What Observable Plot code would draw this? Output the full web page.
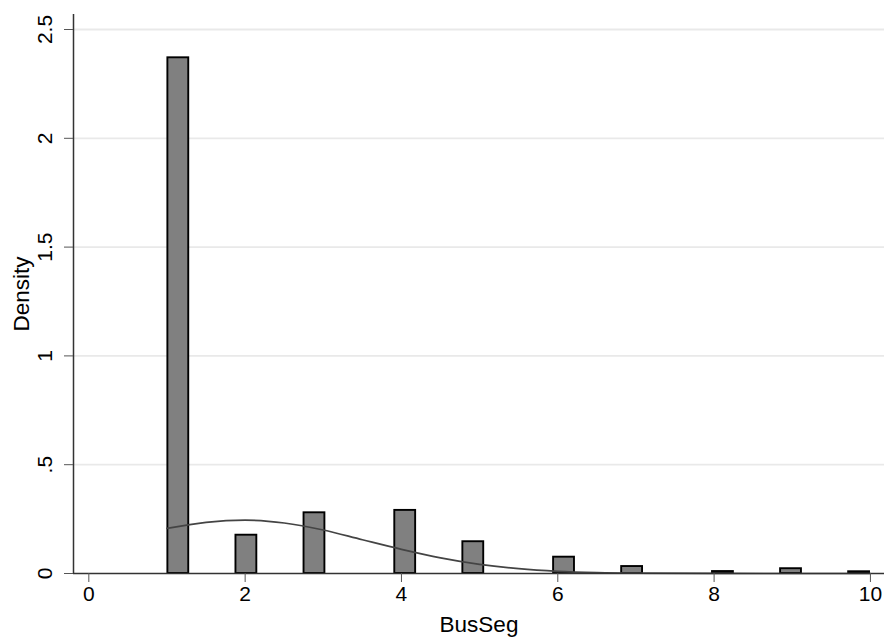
<!DOCTYPE html>
<html>
<head>
<meta charset="utf-8">
<script src="https://cdn.jsdelivr.net/npm/d3@7"></script>
<script src="https://cdn.jsdelivr.net/npm/@observablehq/plot@0.6"></script>
<style>
  html, body { margin: 0; padding: 0; background: #fff; }
  #chart { width: 887px; height: 638px; }
</style>
</head>
<body>
<div id="chart"></div>
<script>
// Histogram bins (left edges) and densities
const binStarts = [1.0, 1.871, 2.742, 3.903, 4.774, 5.935, 6.806, 7.968, 8.839, 9.710];
const binWidth = 0.29;
const densities = [2.37, 0.176, 0.279, 0.29, 0.146, 0.075, 0.032, 0.009, 0.022, 0.008];

// Overlay curve points
const curveX = [1, 1.5, 2, 2.5, 3, 3.5, 4, 4.5, 5, 5.5, 6, 6.5, 7, 8, 9, 10];
const curveY = [0.207, 0.235, 0.245, 0.232, 0.200, 0.155, 0.111, 0.072, 0.042, 0.022, 0.010, 0.004, 0.0015, 0.0002, 0, 0];

// Axis ticks
const xTicks = [0, 2, 4, 6, 8, 10];
const yTicks = [0, 0.5, 1, 1.5, 2, 2.5];
const yTickLabels = ["0", ".5", "1", "1.5", "2", "2.5"];
const gridValues = [0.5, 1, 1.5, 2, 2.5];

const xDomain = [-0.196, 10.18];
const yDomain = [0, 2.569];

const bars = binStarts.map((s, i) => ({x1: s, x2: s + binWidth, y: densities[i]}));
const curve = curveX.map((x, i) => ({x, y: curveY[i]}));
const yLab = yTicks.map((v, i) => ({v, t: yTickLabels[i]}));

const font = "'Liberation Sans', Arial, sans-serif";

const chart = Plot.plot({
  width: 887,
  height: 638,
  marginLeft: 73,
  marginRight: 3,
  marginTop: 14,
  marginBottom: 65,
  style: {fontFamily: font, fontSize: "21px", background: "#fff", color: "#000"},
  x: {domain: xDomain},
  y: {domain: yDomain},
  marks: [
    Plot.ruleY(gridValues, {stroke: "#e9e9e9", strokeWidth: 1.8}),
    Plot.rectY(bars, {x1: "x1", x2: "x2", y: "y", fill: "#808080", stroke: "#000", strokeWidth: 1.9, insetLeft: 0.9, insetRight: 0.9}),
    Plot.line(curve, {x: "x", y: "y", curve: "monotone-x", stroke: "#444", strokeWidth: 1.7}),
    Plot.ruleX([xDomain[0]], {stroke: "#333", strokeWidth: 1.5}),
    Plot.ruleY([0], {stroke: "#333", strokeWidth: 1.5}),
    Plot.axisX(xTicks, {tickSize: 9, tickPadding: 4, stroke: "#555", fontSize: 21, label: null, tickFormat: d => String(d)}),
    Plot.axisY(yTicks, {tickSize: 9, stroke: "#555", label: null, text: null, tickFormat: () => ""}),
    Plot.text(yLab, {x: () => xDomain[0], y: "v", text: "t", rotate: -90, dx: -28, textAnchor: "middle", lineAnchor: "middle", fontSize: 21, fill: "#000"}),
    Plot.text(["BusSeg"], {frameAnchor: "bottom", dy: 51, fontSize: 22.5, fill: "#000", lineAnchor: "middle"}),
    Plot.text(["Density"], {frameAnchor: "left", dx: -52, rotate: -90, fontSize: 22.5, fill: "#000", textAnchor: "middle", lineAnchor: "middle"})
  ]
});
document.getElementById("chart").appendChild(chart);
</script>
</body>
</html>
